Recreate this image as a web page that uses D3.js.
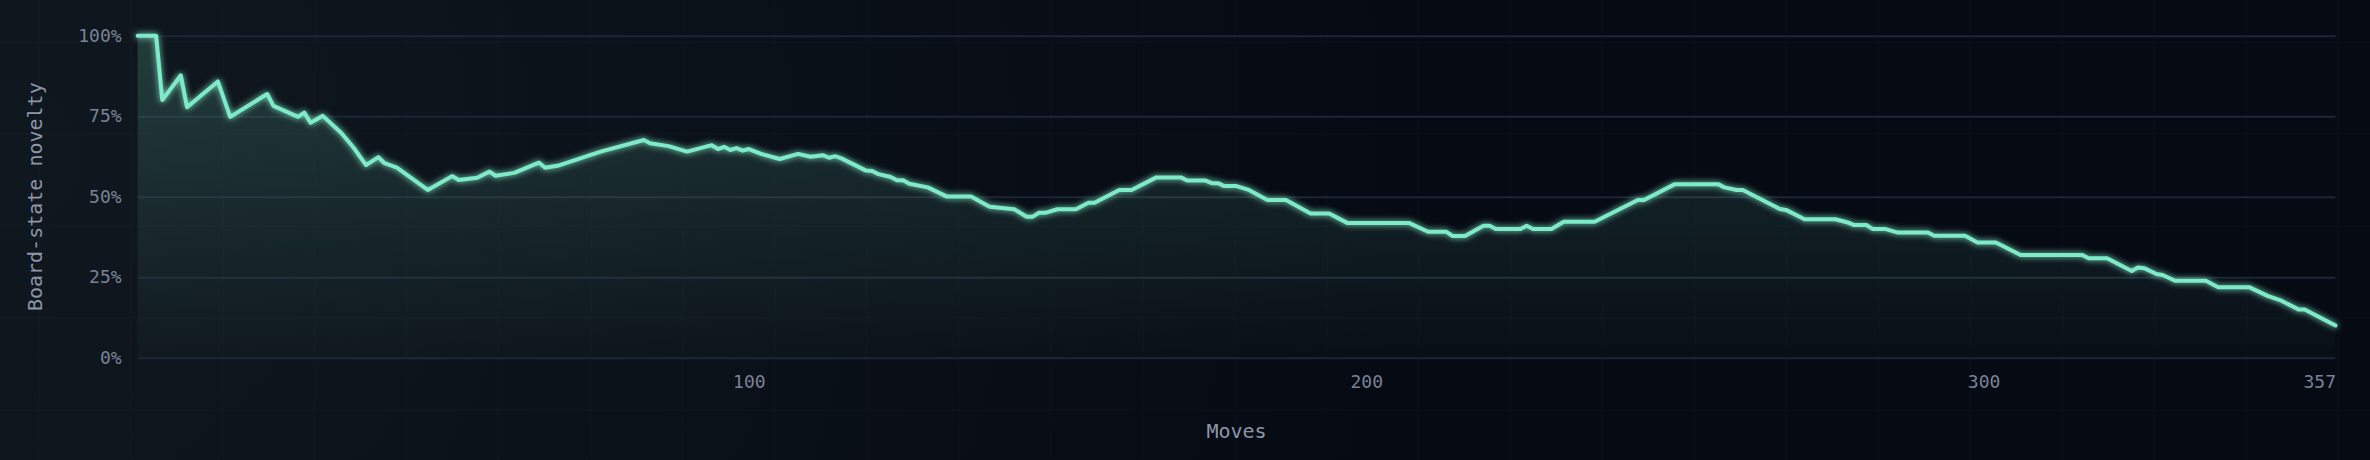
<!DOCTYPE html>
<html>
<head>
<meta charset="utf-8">
<script src="https://cdn.jsdelivr.net/npm/d3@7"></script>
<style>
  html, body { margin: 0; padding: 0; background: #060a13; }
  svg { display: block; }
</style>
</head>
<body>
<div id="chart"></div>
<script>
// Dane: numer ruchu i nowość stanu planszy (%)
const moves = [1, 4, 5, 8, 9, 14, 16, 22, 23, 27, 28, 29, 31, 34, 36, 38, 40, 41, 43, 48, 52, 53, 56, 58, 59, 62, 66, 67, 69, 76,
  83, 84, 87, 90, 94, 95, 96, 97, 98, 99, 100, 102, 105, 108, 110, 112, 113, 114, 115, 119, 120, 121, 123, 124, 125, 126,
  129, 132, 136, 139, 143, 145, 146, 147, 148, 150, 153, 155, 156, 160, 162, 166, 170, 171, 174, 175, 176, 177, 179, 181,
  184, 187, 191, 194, 197, 207, 210, 213, 214, 216, 219, 220, 221, 225, 226, 227, 230, 232, 237, 244, 245, 250, 257, 258,
  260, 261, 267, 268, 271, 276, 278, 279, 281, 282, 284, 286, 291, 292, 297, 299, 302, 306, 316, 317, 320, 324, 325, 326,
  328, 329, 331, 336, 338, 343, 346, 348, 351, 352, 357];
const novelty = [100, 100, 80, 87.7, 77.8, 85.8, 74.8, 81.9, 78.2, 74.8, 76.1, 73, 75.1, 69.8, 65.2, 59.8, 62.3, 60.4, 59, 52.1, 56.4, 55.2, 55.9, 57.8, 56.5, 57.4, 60.6, 59, 59.6, 64,
  67.6, 66.6, 65.7, 64, 66, 64.8, 65.5, 64.5, 65.1, 64.3, 64.8, 63.3, 61.7, 63.3, 62.4, 62.9, 62.1, 62.6, 61.9, 58.1, 58, 57, 56.1, 55.1, 55.1, 54,
  52.9, 50.1, 50.1, 46.9, 46.1, 43.8, 43.8, 45, 45, 46.1, 46.1, 48.1, 48.1, 52.1, 52.1, 56, 56, 55, 55, 54.2, 54.2, 53.3, 53.3, 52.1,
  49, 49, 44.8, 44.8, 41.8, 41.8, 39.1, 39.1, 37.8, 37.8, 41, 41, 40, 40, 41, 40, 40, 42.2, 42.2, 49, 49, 53.9, 53.9, 52.9,
  52.1, 52.1, 46.2, 45.9, 43, 43, 42, 41.2, 41.2, 40, 40, 38.9, 38.9, 37.9, 37.9, 35.8, 35.8, 31.9, 31.9, 30.9, 30.9, 26.9, 28, 27.8,
  26, 25.7, 23.9, 23.9, 21.9, 21.9, 19.2, 17.9, 15, 15, 10];
const yTicks = [0, 25, 50, 75, 100];
const xTicks = [100, 200, 300, 357];

const data = moves.map((m, i) => ({ move: m, value: novelty[i] }));

// Wymiary
const width = 2370;
const height = 460;
const margin = { top: 35.7, right: 34.5, bottom: 102.3, left: 137.6 };
const font = "'DejaVu Sans Mono', 'Liberation Mono', monospace";

const svg = d3.select('#chart')
  .append('svg')
  .attr('width', width)
  .attr('height', height);

const defs = svg.append('defs');

// Tło – delikatny gradient radialny
const bg = defs.append('radialGradient')
  .attr('id', 'bg')
  .attr('gradientUnits', 'userSpaceOnUse')
  .attr('cx', 0).attr('cy', 160).attr('r', 1400);
bg.append('stop').attr('offset', 0).attr('stop-color', '#10181f');
bg.append('stop').attr('offset', 1).attr('stop-color', '#060a13');

// Wypełnienie pod linią
const areaGrad = defs.append('linearGradient')
  .attr('id', 'areaGrad')
  .attr('x1', 0).attr('y1', 0).attr('x2', 0).attr('y2', 1);
areaGrad.append('stop').attr('offset', 0).attr('stop-color', '#7de8c6').attr('stop-opacity', 0.18);
areaGrad.append('stop').attr('offset', 1).attr('stop-color', '#7de8c6').attr('stop-opacity', 0.02);

// Poświata linii
const glow = defs.append('filter')
  .attr('id', 'glow')
  .attr('x', '-5%').attr('y', '-20%').attr('width', '110%').attr('height', '140%');
glow.append('feGaussianBlur').attr('stdDeviation', 3).attr('result', 'blur');
const merge = glow.append('feMerge');
merge.append('feMergeNode').attr('in', 'blur');
merge.append('feMergeNode').attr('in', 'SourceGraphic');

svg.append('rect')
  .attr('width', width)
  .attr('height', height)
  .attr('fill', 'url(#bg)');

// Siatka w tle strony
const bgGrid = svg.append('g').attr('stroke', 'rgba(140,170,200,0.03)').attr('stroke-width', 1.5);
bgGrid.selectAll('line.v')
  .data(d3.range(39, width, 92))
  .enter().append('line')
  .attr('x1', d => d).attr('x2', d => d)
  .attr('y1', 0).attr('y2', height);
bgGrid.selectAll('line.h')
  .data(d3.range(42, height, 92))
  .enter().append('line')
  .attr('y1', d => d).attr('y2', d => d)
  .attr('x1', 0).attr('x2', width);

// Skale
const x = d3.scaleLinear()
  .domain([1, 357])
  .range([margin.left, width - margin.right]);

const y = d3.scaleLinear()
  .domain([0, 100])
  .range([height - margin.bottom, margin.top]);

// Linie siatki osi Y
svg.append('g')
  .attr('transform', 'translate(' + margin.left + ',0)')
  .call(d3.axisLeft(y)
    .tickValues(yTicks)
    .tickSize(-(width - margin.left - margin.right))
    .tickPadding(16)
    .tickFormat(d => d + '%'))
  .call(g => g.select('.domain').remove())
  .call(g => g.selectAll('.tick line').attr('stroke', '#1d2536').attr('stroke-width', 2))
  .call(g => g.selectAll('.tick text')
    .attr('fill', '#7a8396')
    .attr('font-family', font)
    .attr('font-size', 18));

// Oś X
svg.append('g')
  .attr('transform', 'translate(0,' + (height - margin.bottom) + ')')
  .call(d3.axisBottom(x).tickValues(xTicks).tickSize(0).tickPadding(18))
  .call(g => g.select('.domain').remove())
  .call(g => g.selectAll('.tick text')
    .attr('fill', '#7a8396')
    .attr('font-family', font)
    .attr('font-size', 18)
    .attr('text-anchor', d => d === 357 ? 'end' : 'middle'));

// Obszar i linia
const area = d3.area()
  .x(d => x(d.move))
  .y0(y(0))
  .y1(d => y(d.value));

const line = d3.line()
  .x(d => x(d.move))
  .y(d => y(d.value));

svg.append('path')
  .datum(data)
  .attr('d', area)
  .attr('fill', 'url(#areaGrad)');

svg.append('path')
  .datum(data)
  .attr('d', line)
  .attr('fill', 'none')
  .attr('stroke', '#7eeac8')
  .attr('stroke-width', 4)
  .attr('stroke-linejoin', 'round')
  .attr('stroke-linecap', 'round')
  .attr('filter', 'url(#glow)');

// Tytuły osi
svg.append('text')
  .attr('x', (margin.left + width - margin.right) / 2)
  .attr('y', 438)
  .attr('text-anchor', 'middle')
  .attr('fill', '#8d96a8')
  .attr('font-family', font)
  .attr('font-size', 20)
  .text('Moves');

svg.append('text')
  .attr('transform', 'translate(42,' + (height - margin.bottom + margin.top) / 2 + ') rotate(-90)')
  .attr('text-anchor', 'middle')
  .attr('fill', '#8d96a8')
  .attr('font-family', font)
  .attr('font-size', 20)
  .text('Board-state novelty');
</script>
</body>
</html>
